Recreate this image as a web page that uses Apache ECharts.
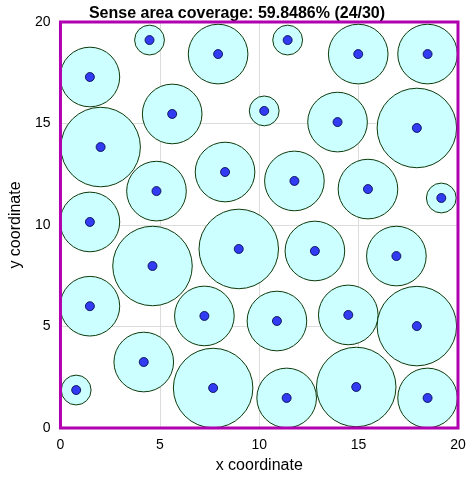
<!DOCTYPE html><html><head><meta charset="utf-8"><script src="https://cdn.jsdelivr.net/npm/echarts@6/dist/echarts.min.js"></script></head><body style="margin:0"><div id="c" style="width:474px;height:483px"></div><script>
const xs=[0.79,4.19,7.68,11.38,14.88,18.47,1.48,4.63,7.24,10.89,14.48,17.93,8.97,12.8,16.9,1.48,4.83,8.28,11.77,15.47,19.16,2.02,5.62,10.25,13.94,17.93,1.48,4.48,7.93,11.43,14.98,18.47];
const ys=[1.87,3.25,1.97,1.48,2.02,1.48,6.0,7.98,5.52,5.27,5.57,5.02,8.82,8.72,8.47,10.15,11.67,12.61,12.17,11.77,11.33,13.84,15.47,15.62,15.07,14.78,17.29,19.11,18.42,19.11,18.42,18.42];
const rs=[0.75,1.5,2,1.5,2,1.5,1.5,2,1.5,1.5,1.5,2,2,1.5,1.5,1.5,1.5,1.5,1.5,1.5,0.75,2,1.5,0.75,1.5,2,1.5,0.75,1.5,0.75,1.5,1.5];
const ticks=[0,5,10,15,20];
const data=xs.map((x,i)=>[x,ys[i],rs[i]]);
const ch=echarts.init(document.getElementById('c'));
const ax=(name,gap)=>({type:'value',min:0,max:20,interval:5,name:name,nameLocation:'middle',nameGap:gap,
 nameTextStyle:{fontSize:16,color:'#000',fontFamily:'Liberation Sans'},
 axisLine:{show:false},axisTick:{show:false},
 axisLabel:{fontSize:14,margin:10,color:'#000',fontFamily:'Liberation Sans',formatter:v=>ticks.includes(v)?String(v):''},
 splitLine:{lineStyle:{color:'#dcdcdc'}}});
ch.setOption({animation:false,
 title:{text:'Sense area coverage: 59.8486% (24/30)',left:'center',top:1,textStyle:{fontSize:16,fontWeight:'bold',color:'#000',fontFamily:'Liberation Sans'}},
 grid:{left:52,right:16,top:22,bottom:55},
 xAxis:ax('x coordinate',30),yAxis:ax('y coordinate',32),
 series:[{type:'custom',data:data,clip:false,renderItem:(p,api)=>{const c=api.coord([api.value(0),api.value(1)]);const s=api.size([api.value(2),api.value(2)]);
  return {type:'circle',shape:{cx:c[0],cy:c[1],r:s[0]},style:{fill:'#ccffff',stroke:'#0b3a0b',lineWidth:1}};}},
 {type:'scatter',data:data.map(d=>[d[0],d[1]]),symbolSize:9,itemStyle:{color:'#0a0aee',borderColor:'#000044',borderWidth:1}}]});
const p0=ch.convertToPixel({gridIndex:0},[0,0]),p1=ch.convertToPixel({gridIndex:0},[20,20]);
ch.setOption({graphic:[{type:'rect',z:100,shape:{x:p0[0],y:p1[1],width:p1[0]-p0[0],height:p0[1]-p1[1]},style:{fill:null,stroke:'#b000b0',lineWidth:3}}]});
</script></body></html>
